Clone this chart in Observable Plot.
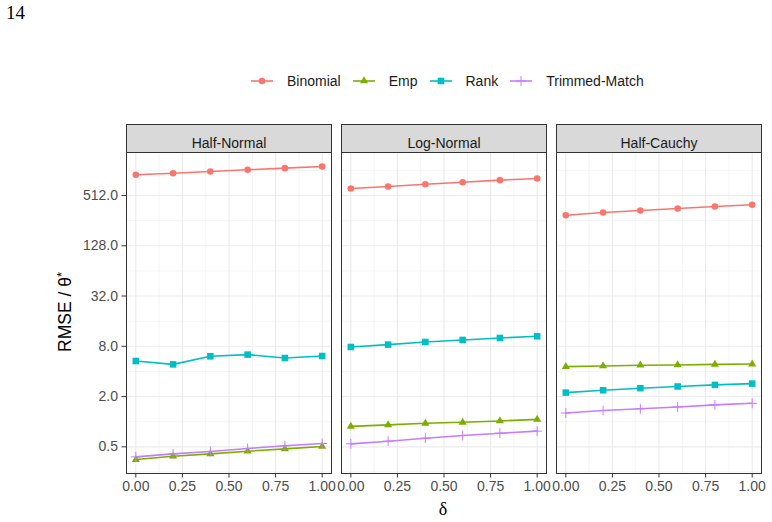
<!DOCTYPE html>
<html><head><meta charset="utf-8">
<script src="https://cdn.jsdelivr.net/npm/d3@7"></script>
<script src="https://cdn.jsdelivr.net/npm/@observablehq/plot@0.6"></script>
<style>
body{margin:0;background:#fff;}
#page{position:relative;width:772px;height:522px;overflow:hidden;font-family:"Liberation Sans",Arial,Helvetica,sans-serif;background:#fff;}
#pagenum{position:absolute;left:6px;top:0px;font-family:"Liberation Serif","Times New Roman",serif;font-size:19px;color:#000;line-height:26px;}
#legend{position:absolute;left:251px;top:72px;display:flex;align-items:center;height:18px;}
#legend .key{margin-right:14px;display:block;}
#legend .lab{font-size:14px;color:#1A1A1A;margin-right:12px;white-space:nowrap;}
#chart{position:absolute;left:0;top:100px;}
#ytitle{position:absolute;left:65px;top:312px;transform:translate(-50%,-50%) rotate(-90deg);font-size:17.5px;color:#000;white-space:nowrap;}
#xtitle{position:absolute;left:443px;top:509px;transform:translate(-50%,-50%);font-family:"Liberation Serif","DejaVu Serif",serif;font-size:18px;color:#000;}
</style></head><body>
<div id="page">
  <div id="pagenum">14</div>
  <div id="legend"></div>
  <div id="chart"></div>
  <div id="ytitle">RMSE / θ<sup style="font-size:0.75em;vertical-align:0.35em">*</sup></div>
  <div id="xtitle">δ</div>
</div>
<script>
// ---- data ----
const deltas = [0, 0.2, 0.4, 0.6, 0.8, 1.0];
const dists = ["Half-Normal", "Log-Normal", "Half-Cauchy"];
const methods = ["Binomial", "Emp", "Rank", "Trimmed-Match"];
const colors = ["#F8766D", "#7CAE00", "#00BFC4", "#C77CFF"];
const symbols = ["circle", "triangle", "square", "plus"];

const binomialHalfNormal = [907, 947, 993, 1040, 1088, 1140];
const empHalfNormal = [0.352, 0.386, 0.412, 0.443, 0.473, 0.504];
const rankHalfNormal = [5.33, 4.86, 6.07, 6.36, 5.79, 6.12];
const trimmedHalfNormal = [0.379, 0.412, 0.439, 0.477, 0.514, 0.547];

const binomialLogNormal = [621, 656, 699, 738, 782, 818];
const empLogNormal = [0.88, 0.915, 0.956, 0.983, 1.02, 1.067];
const rankLogNormal = [7.85, 8.38, 9.01, 9.53, 10.06, 10.54];
const trimmedLogNormal = [0.543, 0.584, 0.634, 0.683, 0.728, 0.77];

const binomialHalfCauchy = [297, 320, 338, 358, 378, 396];
const empHalfCauchy = [4.57, 4.65, 4.74, 4.78, 4.86, 4.90];
const rankHalfCauchy = [2.23, 2.38, 2.52, 2.64, 2.76, 2.86];
const trimmedHalfCauchy = [1.27, 1.36, 1.43, 1.50, 1.59, 1.66];

const xTicks = [0, 0.25, 0.5, 0.75, 1];
const xMinor = [0.125, 0.375, 0.625, 0.875];
const yTicks = [0.5, 2, 8, 32, 128, 512];
const yMinor = [0.25, 1, 4, 16, 64, 256, 1024];

// ---- table ----
const series = {
  "Half-Normal": [binomialHalfNormal, empHalfNormal, rankHalfNormal, trimmedHalfNormal],
  "Log-Normal": [binomialLogNormal, empLogNormal, rankLogNormal, trimmedLogNormal],
  "Half-Cauchy": [binomialHalfCauchy, empHalfCauchy, rankHalfCauchy, trimmedHalfCauchy]
};
const rows = [];
for (const dist of dists) {
  series[dist].forEach((vals, mi) => {
    vals.forEach((v, i) => rows.push({dist, method: methods[mi], delta: deltas[i], value: v}));
  });
}

const symR = {"circle": 3.3, "triangle": 3.0, "square": 3.7, "plus": 3.3};
const font = '"Liberation Sans", Arial, Helvetica, sans-serif';

const dotMarks = methods.map((m, i) => {
  const data = rows.filter(d => d.method === m);
  if (symbols[i] === "plus") {
    return Plot.dot(data, {x: "delta", y: "value", fx: "dist", stroke: "method", fill: "none", symbol: "plus", r: symR.plus, strokeWidth: 1});
  }
  return Plot.dot(data, {x: "delta", y: "value", fx: "dist", fill: "method", stroke: "none", symbol: symbols[i], r: symR[symbols[i]]});
});

const chart = Plot.plot({
  width: 772,
  height: 422,
  marginTop: 52,
  marginBottom: 49,
  marginLeft: 126,
  marginRight: 11,
  style: {fontFamily: font, fontSize: "14px", background: "transparent", overflow: "visible"},
  fx: {domain: dists, paddingInner: 0.0465, paddingOuter: 0, round: false, axis: null, label: null},
  x: {domain: [-0.05, 1.05], label: null},
  y: {type: "log", base: 2, domain: [0.2396, 1676], label: null},
  color: {domain: methods, range: colors},
  marks: [
    Plot.gridX({ticks: xMinor, stroke: "#EBEBEB", strokeOpacity: 1, strokeWidth: 0.55}),
    Plot.gridY({ticks: yMinor, stroke: "#EBEBEB", strokeOpacity: 1, strokeWidth: 0.55}),
    Plot.gridX({ticks: xTicks, stroke: "#EBEBEB", strokeOpacity: 1, strokeWidth: 1.1}),
    Plot.gridY({ticks: yTicks, stroke: "#EBEBEB", strokeOpacity: 1, strokeWidth: 1.1}),
    Plot.axisX({ticks: xTicks, tickFormat: d3.format(".2f"), tickSize: 4.5, tickPadding: 3, stroke: "#333333", fill: "#4D4D4D", fontSize: 14, label: null}),
    Plot.axisY({ticks: yTicks, tickFormat: d3.format(".1f"), tickSize: 4.5, tickPadding: 4, stroke: "#333333", fill: "#4D4D4D", fontSize: 14, label: null}),
    Plot.line(rows, {x: "delta", y: "value", z: "method", stroke: "method", fx: "dist", strokeWidth: 1.6}),
    ...dotMarks,
    Plot.frame({stroke: "#333333", strokeWidth: 1}),
    Plot.frame({fill: "#D9D9D9", stroke: "#333333", strokeWidth: 1, insetTop: -28, insetBottom: 321}),
    Plot.text(dists, {fx: d => d, text: d => d, frameAnchor: "top", dy: -14, fill: "#1A1A1A", fontSize: 14})
  ]
});
document.getElementById("chart").appendChild(chart);

// ---- legend ----
const symMap = {circle: d3.symbolCircle, triangle: d3.symbolTriangle, square: d3.symbolSquare, plus: d3.symbolPlus};
const legend = d3.select("#legend");
methods.forEach((m, i) => {
  const s = symbols[i];
  const r = symR[s];
  const svg = legend.append("svg").attr("class", "key").attr("width", 22).attr("height", 16);
  svg.append("line").attr("x1", 0).attr("x2", 22).attr("y1", 8).attr("y2", 8)
    .attr("stroke", colors[i]).attr("stroke-width", 1.6);
  const p = svg.append("path").attr("transform", "translate(11,8)")
    .attr("d", d3.symbol(symMap[s], Math.PI * r * r)());
  if (s === "plus") p.attr("fill", "none").attr("stroke", colors[i]).attr("stroke-width", 1);
  else p.attr("fill", colors[i]);
  legend.append("span").attr("class", "lab").text(m);
});
</script>
</body></html>
